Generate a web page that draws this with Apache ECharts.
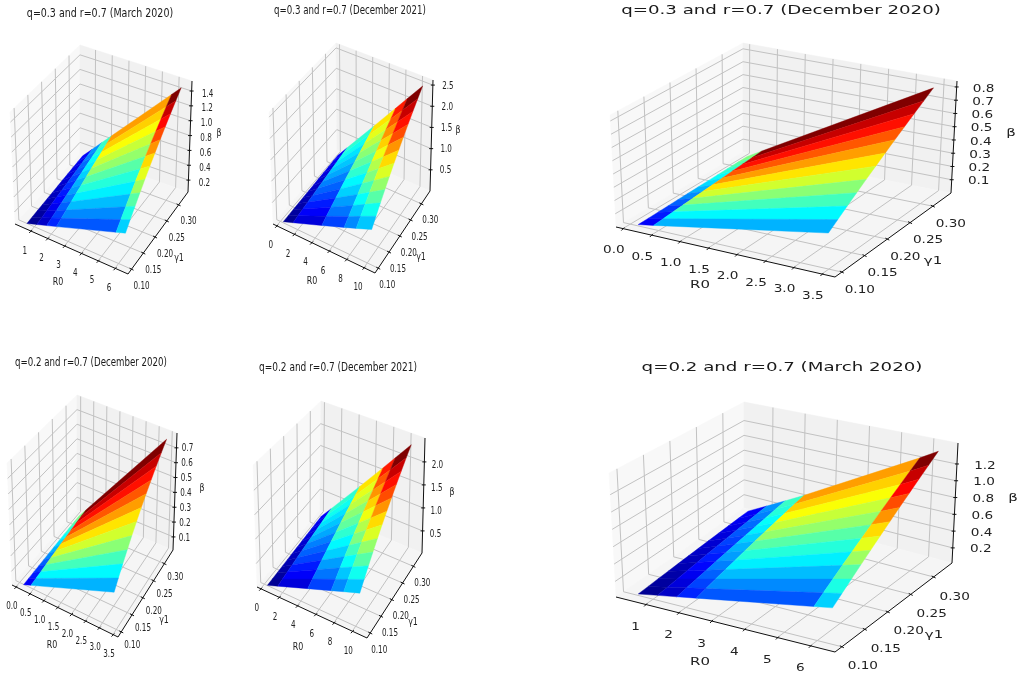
<!DOCTYPE html>
<html><head><meta charset="utf-8">
<style>html,body{margin:0;padding:0;background:#fff}#main{width:1020px;height:679px;filter:blur(0.4px)}</style>
<script src="https://cdn.jsdelivr.net/npm/echarts@6/dist/echarts.min.js"></script>
</head><body><div id="main"></div>
<script>
// ---------- values ----------
const gammaValues = [0.10,0.12,0.14,0.16,0.18,0.20,0.22,0.24,0.26,0.28,0.30,0.32];
const r0March = [0.55,1.14,1.73,2.32,5.88,6.44];
const r0Dec2021 = [0.33,1.47,4.8,7.4,8.8,10.6];
const r0Dec2020 = [0.14,0.41,3.48];

const betaQ3March = [
 [.040,.048,.056,.064,.072,.080,.088,.096,.104,.112,.120,.128],
 [.083,.099,.116,.133,.149,.166,.182,.199,.215,.232,.249,.265],
 [.126,.151,.176,.201,.226,.252,.277,.302,.327,.352,.377,.403],
 [.169,.202,.236,.270,.304,.337,.371,.405,.439,.472,.506,.540],
 [.428,.513,.599,.684,.770,.855,.941,1.026,1.112,1.197,1.283,1.368],
 [.468,.562,.655,.749,.843,.936,1.030,1.124,1.217,1.311,1.405,1.498]];
const betaQ3Dec2021 = [
 [.025,.030,.035,.040,.045,.050,.055,.060,.065,.070,.075,.080],
 [.111,.134,.156,.178,.200,.223,.245,.267,.289,.312,.334,.356],
 [.363,.436,.509,.581,.654,.727,.799,.872,.945,1.018,1.090,1.163],
 [.560,.672,.784,.896,1.008,1.120,1.232,1.344,1.457,1.569,1.681,1.793],
 [.666,.799,.933,1.066,1.199,1.332,1.466,1.599,1.732,1.865,1.999,2.132],
 [.802,.963,1.123,1.284,1.444,1.605,1.765,1.926,2.086,2.247,2.407,2.568]];
const betaQ3Dec2020 = [
 [.010,.012,.014,.016,.019,.021,.023,.025,.027,.029,.031,.033],
 [.030,.036,.042,.048,.054,.060,.066,.072,.079,.085,.091,.097],
 [.256,.307,.359,.410,.461,.512,.563,.615,.666,.717,.768,.820]];
const betaQ2Dec2020 = [
 [.010,.012,.014,.016,.018,.020,.022,.024,.026,.028,.030,.032],
 [.029,.035,.040,.046,.052,.058,.064,.069,.075,.081,.087,.092],
 [.246,.295,.344,.393,.442,.491,.541,.590,.639,.688,.737,.786]];
const betaQ2Dec2021 = [
 [.024,.029,.033,.038,.043,.048,.052,.057,.062,.067,.071,.076],
 [.106,.127,.148,.169,.190,.212,.233,.254,.275,.296,.317,.339],
 [.346,.415,.484,.553,.622,.691,.760,.829,.899,.968,1.037,1.106],
 [.533,.639,.746,.852,.959,1.066,1.172,1.279,1.385,1.492,1.598,1.705],
 [.634,.760,.887,1.014,1.140,1.267,1.394,1.521,1.647,1.774,1.901,2.028],
 [.763,.916,1.068,1.221,1.374,1.526,1.679,1.832,1.984,2.137,2.290,2.442]];
const betaQ2March = [
 [.038,.045,.053,.060,.068,.075,.083,.090,.098,.105,.113,.120],
 [.078,.093,.109,.125,.140,.156,.171,.187,.203,.218,.234,.249],
 [.118,.142,.165,.189,.213,.236,.260,.284,.307,.331,.355,.378],
 [.159,.190,.222,.254,.285,.317,.349,.380,.412,.444,.476,.507],
 [.402,.482,.562,.643,.723,.803,.884,.964,1.044,1.124,1.205,1.285],
 [.440,.528,.616,.704,.792,.880,.968,1.056,1.144,1.232,1.320,1.408]];
// colour levels of the surface, read strip by strip (low gamma to high gamma)
const levelsDec2020 = [
 [.12,.15,.18,.22,.26,.30,.34,.38,.42,.46,.50],
 [.30,.37,.44,.51,.58,.65,.72,.79,.86,.93,1.0]];
const levelsMarch = [
 [.02,.03,.04,.05,.06,.07,.08,.09,.10,.11,.12],
 [.07,.09,.11,.13,.15,.17,.19,.21,.23,.25,.27],
 [.16,.19,.22,.25,.28,.30,.33,.36,.38,.41,.43],
 [.21,.26,.31,.36,.41,.46,.52,.57,.62,.67,.72],
 [.33,.40,.46,.53,.60,.66,.73,.80,.87,.93,1.0]];
const levelsDec2021 = [
 [.02,.03,.04,.05,.06,.07,.08,.09,.10,.11,.12],
 [.09,.12,.15,.19,.22,.25,.29,.32,.35,.39,.42],
 [.19,.24,.28,.33,.37,.42,.47,.51,.56,.60,.65],
 [.26,.32,.38,.44,.50,.55,.61,.67,.73,.79,.85],
 [.32,.39,.46,.52,.59,.66,.73,.80,.86,.93,1.0]];

const gammaTicks = ['0.10','0.15','0.20','0.25','0.30'];
const r0TicksMarch = ['1','2','3','4','5','6'];
const r0TicksDec2021 = ['0','2','4','6','8','10'];
const r0TicksDec2020 = ['0.0','0.5','1.0','1.5','2.0','2.5','3.0','3.5'];
const betaTicksQ3March = ['0.2','0.4','0.6','0.8','1.0','1.2','1.4'];
const betaTicksQ3Dec2021 = ['0.5','1.0','1.5','2.0','2.5'];
const betaTicksQ3Dec2020 = ['0.1','0.2','0.3','0.4','0.5','0.6','0.7','0.8'];
const betaTicksQ2Dec2020 = ['0.1','0.2','0.3','0.4','0.5','0.6','0.7'];
const betaTicksQ2Dec2021 = ['0.5','1.0','1.5','2.0'];
const betaTicksQ2March = ['0.2','0.4','0.6','0.8','1.0','1.2'];

const titles = ['q=0.3 and r=0.7 (March 2020)','q=0.3 and r=0.7 (December 2021)','q=0.3 and r=0.7 (December 2020)',
 'q=0.2 and r=0.7 (December 2020)','q=0.2 and r=0.7 (December 2021)','q=0.2 and r=0.7 (March 2020)'];

// ---------- panel layout (box corners on the page, axis limits, label placement) ----------
const panels = [
 {title:titles[0], r0:r0March, beta:betaQ3March, r0T:r0TicksMarch, bT:betaTicksQ3March, levels:levelsMarch,
  xr:[.07,6.77], yr:[.085,.34], zr:[.04,1.535],
  A:[15,224],B:[128,274],C:[188,192],D:[80,154],A2:[10,112],B2:[126,156],C2:[192,81],D2:[80,45],
  t:[100,14],tsx:.79,sx:.72,off:{r:[-6,20],g:[10,17],b:[16,3]},nm:{r:[58,282],g:[179,258],b:[219,133]}},
 {title:titles[1], r0:r0Dec2021, beta:betaQ3Dec2021, r0T:r0TicksDec2021, bT:betaTicksQ3Dec2021, levels:levelsDec2021,
  xr:[-.42,11.26], yr:[.085,.34], zr:[0,2.62],
  A:[273,224],B:[375,273],C:[430,191],D:[337,150],A2:[269,112],B2:[372,155],C2:[433,80],D2:[336,43],
  t:[350,11],tsx:.72,sx:.72,off:{r:[-6,20],g:[9,17],b:[15,1]},nm:{r:[312,281],g:[421,257],b:[458,130]}},
 {title:titles[2], r0:r0Dec2020, beta:betaQ3Dec2020, r0T:r0TicksDec2020, bT:betaTicksQ3Dec2020, levels:levelsDec2020,
  xr:[-.12,3.73], yr:[.085,.34], zr:[0,.845],
  A:[616,227],B:[835,277],C:[951,193],D:[743,152],A2:[610,115],B2:[838,158],C2:[957,81],D2:[743,43],
  t:[781,11],tsx:1.4,fs:13,sx:1.36,off:{r:[-9,22],g:[18,18],b:[27,2]},nm:{r:[700,285],g:[933,261],b:[1011,133]}},
 {title:titles[3], r0:r0Dec2020, beta:betaQ2Dec2020, r0T:r0TicksDec2020, bT:betaTicksQ2Dec2020, levels:levelsDec2020,
  xr:[-.14,3.68], yr:[.085,.34], zr:[.012,.80],
  A:[12,585],B:[118,637],C:[173,550],D:[77,510],A2:[7,463],B2:[112,512],C2:[177,433],D2:[77,395],
  t:[91,363],tsx:.72,sx:.72,off:{r:[-4,20],g:[11,14],b:[11,1]},nm:{r:[52,645],g:[164,620],b:[202,488]}},
 {title:titles[4], r0:r0Dec2021, beta:betaQ2Dec2021, r0T:r0TicksDec2021, bT:betaTicksQ2Dec2021, levels:levelsDec2021,
  xr:[-.4,11.6], yr:[.085,.34], zr:[.02,2.52],
  A:[257,587],B:[367,638],C:[422,553],D:[320,510],A2:[253,465],B2:[362,518],C2:[425,438],D2:[321,401],
  t:[338,368],tsx:.75,sx:.72,off:{r:[-4,20],g:[9,17],b:[13,3]},nm:{r:[298,647],g:[413,622],b:[452,492]}},
 {title:titles[5], r0:r0March, beta:betaQ2March, r0T:r0TicksMarch, bT:betaTicksQ2March, levels:levelsMarch,
  xr:[.1,6.75], yr:[.085,.34], zr:[.02,1.45],
  A:[616,597],B:[835,652],C:[952,563],D:[744,508],A2:[609,473],B2:[838,528],C2:[958,443],D2:[744,402],
  t:[782,368],tsx:1.4,fs:13,sx:1.36,off:{r:[-10,23],g:[21,20],b:[28,2]},nm:{r:[700,662],g:[934,635],b:[1013,498]}}
];

const lerp=(a,b,t)=>[a[0]+(b[0]-a[0])*t,a[1]+(b[1]-a[1])*t];
function project(p,x,y,z){
  const u=(x-p.xr[0])/(p.xr[1]-p.xr[0]), v=(y-p.yr[0])/(p.yr[1]-p.yr[0]), w=(z-p.zr[0])/(p.zr[1]-p.zr[0]);
  const lo=lerp(lerp(p.A,p.B,u),lerp(p.D,p.C,u),v), hi=lerp(lerp(p.A2,p.B2,u),lerp(p.D2,p.C2,u),v);
  return lerp(lo,hi,w);
}
function jet(t){
  const c=f=>Math.round(255*Math.max(0,Math.min(1,f)));
  const r=1.5-Math.abs(4*t-3), g=1.5-Math.abs(4*t-2), b=1.5-Math.abs(4*t-1);
  return 'rgb('+c(r)+','+c(g)+','+c(b)+')';
}
function facets(p){
  const rows=[], n=gammaValues.length, m=p.r0.length;
  for(let i=n-2;i>=0;i--)for(let j=0;j<m-1;j++){
    rows.push([p.r0[j],p.r0[j+1],gammaValues[i],gammaValues[i+1],p.beta[j][i],p.beta[j+1][i],p.beta[j][i+1],p.beta[j+1][i+1],p.levels[j][i]]);
  }
  return rows;
}
function label(api,txt,pos,size,sx,color){
  const c=api.coord(pos);
  return {type:'text',x:c[0],y:c[1],scaleX:sx,scaleY:1,silent:true,
    style:{text:txt,x:0,y:0,align:'center',verticalAlign:'middle',font:size+'px "DejaVu Sans"',fill:color||'#222'}};
}
const seg=(api,a,b,color,w)=>{const s=api.coord(a),e=api.coord(b);
  return {type:'line',shape:{x1:s[0],y1:s[1],x2:e[0],y2:e[1]},style:{stroke:color,lineWidth:w}};};
const pane=(api,pts,fill)=>({type:'polygon',shape:{points:pts.map(q=>api.coord(q))},style:{fill:fill,stroke:fill,lineWidth:.5}});

function frameItem(p){return function(params,api){
  const ch=[]; const X=p.xr,Y=p.yr,Z=p.zr,G='#c2c2c2';
  ch.push(pane(api,[p.A,p.D,p.D2,p.A2],'#f8f8f8'));
  ch.push(pane(api,[p.D,p.C,p.C2,p.D2],'#f1f1f1'));
  ch.push(pane(api,[p.A,p.B,p.C,p.D],'#f5f5f5'));
  p.r0T.map(Number).forEach(r=>{
    ch.push(seg(api,project(p,r,Y[0],Z[0]),project(p,r,Y[1],Z[0]),G,1));
    ch.push(seg(api,project(p,r,Y[1],Z[0]),project(p,r,Y[1],Z[1]),G,1));
  });
  gammaTicks.map(Number).forEach(g=>{
    ch.push(seg(api,project(p,X[0],g,Z[0]),project(p,X[1],g,Z[0]),G,1));
    ch.push(seg(api,project(p,X[0],g,Z[0]),project(p,X[0],g,Z[1]),G,1));
  });
  p.bT.map(Number).forEach(b=>{
    ch.push(seg(api,project(p,X[0],Y[0],b),project(p,X[0],Y[1],b),G,1));
    ch.push(seg(api,project(p,X[0],Y[1],b),project(p,X[1],Y[1],b),G,1));
  });
  return {type:'group',children:ch};
};}
function axisItem(p){return function(params,api){
  const ch=[]; const X=p.xr,Y=p.yr,Z=p.zr,K='#111';
  ch.push(seg(api,p.A,p.B,K,1)); ch.push(seg(api,p.B,p.C,K,1)); ch.push(seg(api,p.C,p.C2,K,1));
  const sx=p.sx;
  p.r0T.forEach(t=>{const q=project(p,+t,Y[0],Z[0]);
    ch.push(seg(api,[q[0]+1.5,q[1]+-1],[q[0]-1.5,q[1]+2],K,1));
    ch.push(label(api,t,[q[0]+p.off.r[0],q[1]+p.off.r[1]],10,sx));});
  gammaTicks.forEach(t=>{const q=project(p,X[1],+t,Z[0]);
    ch.push(seg(api,[q[0]-2,q[1]-1],[q[0]+2,q[1]+1],K,1));
    ch.push(label(api,t,[q[0]+p.off.g[0],q[1]+p.off.g[1]],10,sx));});
  p.bT.forEach(t=>{const q=project(p,X[1],Y[1],+t);
    ch.push(seg(api,[q[0]-2,q[1]],[q[0]+2,q[1]],K,1));
    ch.push(label(api,t,[q[0]+p.off.b[0],q[1]+p.off.b[1]],10,sx));});
  ch.push(label(api,'R0',p.nm.r,11,sx));
  ch.push(label(api,'γ1',p.nm.g,11,sx));
  ch.push(label(api,'β',p.nm.b,11,sx));
  ch.push(label(api,p.title,p.t,p.fs||12,p.tsx,'#1a1a1a'));
  return {type:'group',children:ch};
};}
function facetItem(p){return function(params,api){
  const v=i=>api.value(i);
  const pts=[project(p,v(0),v(2),v(4)),project(p,v(1),v(2),v(5)),project(p,v(1),v(3),v(7)),project(p,v(0),v(3),v(6))].map(q=>api.coord(q));
  const col=jet(v(8));
  return {type:'polygon',shape:{points:pts},style:{fill:col,stroke:col,lineWidth:.4}};
};}

const series=[];
panels.forEach(p=>{
  series.push({type:'custom',silent:true,clip:false,z:1,data:[[0,0]],renderItem:frameItem(p)});
  series.push({type:'custom',silent:true,clip:false,z:2,data:facets(p),renderItem:facetItem(p)});
  series.push({type:'custom',silent:true,clip:false,z:3,data:[[0,0]],renderItem:axisItem(p)});
});
const chart=echarts.init(document.getElementById('main'),null,{renderer:'canvas',width:1020,height:679});
chart.setOption({
  animation:false,backgroundColor:'#fff',
  grid:{left:0,right:0,top:0,bottom:0},
  xAxis:{type:'value',min:0,max:1020,show:false},
  yAxis:{type:'value',min:0,max:679,inverse:true,show:false},
  series:series
});
</script></body></html>
